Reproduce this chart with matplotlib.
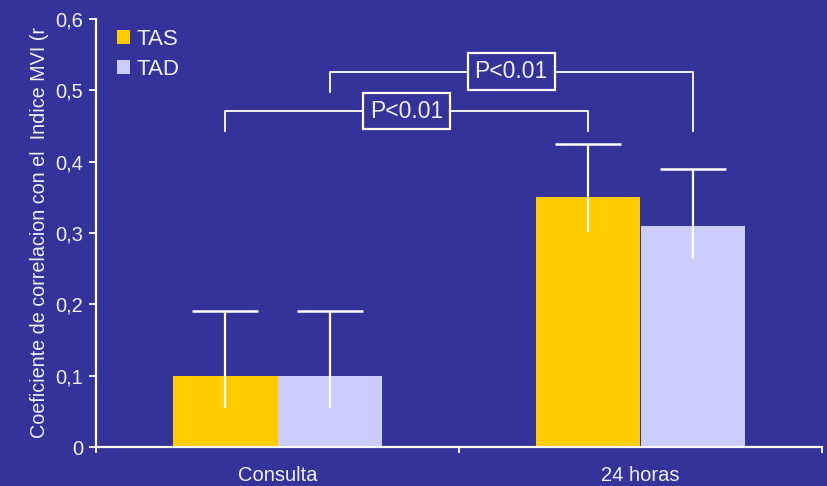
import matplotlib
matplotlib.use("Agg")
import matplotlib.pyplot as plt
import numpy as np

plt.rcParams['font.family'] = ['Liberation Sans', 'DejaVu Sans']

categories = ["Consulta", "24 horas"]
series = ["TAS", "TAD"]
tas = [0.10, 0.35]
tad = [0.10, 0.31]
tas_low = [0.055, 0.301]
tas_high = [0.19, 0.425]
tad_low = [0.055, 0.264]
tad_high = [0.19, 0.39]
yticks = [0, 0.1, 0.2, 0.3, 0.4, 0.5, 0.6]
ytick_labels = ["0", "0,1", "0,2", "0,3", "0,4", "0,5", "0,6"]
pvalue_text = "P<0.01"

BG = "#333399"
C_TAS = "#FFCC00"
C_TAD = "#CCCCFF"
FG = "#F0F0FF"

fig = plt.figure(figsize=(8.27, 4.86), dpi=100, facecolor=BG)
ax = fig.add_axes([96 / 827, 39 / 486, 726 / 827, 428 / 486])
ax.set_facecolor(BG)

x = np.arange(len(categories))
w = 0.287
x_tas = x - w / 2
x_tad = x + w / 2

ax.bar(x_tas, tas, width=w, color=C_TAS, label=series[0], zorder=2)
ax.bar(x_tad, tad, width=w, color=C_TAD, label=series[1], zorder=2)

# error bars: whisker spanning low..high with a cap only on top
def whiskers(xs, lows, highs):
    ax.vlines(xs, lows, highs, color="white", lw=1.6, zorder=3)
    ax.plot(xs, highs, linestyle="none", marker="_", markersize=47,
            markeredgewidth=1.8, color="white", zorder=3)

whiskers(x_tas, tas_low, tas_high)
whiskers(x_tad, tad_low, tad_high)

# significance brackets
def bracket(x0, x1, y_top, y0_bottom, y1_bottom):
    ax.plot([x0, x0, x1, x1], [y0_bottom, y_top, y_top, y1_bottom],
            color="white", lw=1.3, zorder=3, clip_on=False)
    ax.text((x0 + x1) / 2, y_top, pvalue_text, ha="center", va="center",
            fontsize=16.5, color=FG, zorder=4,
            bbox=dict(boxstyle="square,pad=0.3", facecolor=BG, edgecolor="white", linewidth=1.6))

bracket(x_tas[0], x_tas[1], 0.471, 0.443, 0.443)
bracket(x_tad[0], x_tad[1], 0.526, 0.498, 0.443)

ax.set_xlim(-0.5, 1.5)
ax.set_ylim(0, 0.6)
ax.set_yticks(yticks)
ax.set_yticklabels(ytick_labels)
ax.set_xticks([-0.5, 0.5, 1.5])
ax.set_xticklabels([])
ax.set_xticks(x, minor=True)
ax.set_xticklabels(categories, minor=True)
ax.tick_params(axis="x", which="minor", length=0, pad=14, labelsize=14.5, labelcolor=FG)
ax.tick_params(axis="x", which="major", length=4, width=1.3, color="white", direction="out")
ax.tick_params(axis="y", length=5, width=1.3, color="white", direction="out",
               labelsize=14.5, labelcolor=FG, pad=4)

for side in ["top", "right"]:
    ax.spines[side].set_visible(False)
for side in ["left", "bottom"]:
    ax.spines[side].set_color("white")
    ax.spines[side].set_linewidth(1.6)

ax.set_ylabel("Coeficiente de correlacion con el  Indice MVI (r", fontsize=14.2, color=FG, labelpad=5)

leg = ax.legend(loc="upper left", bbox_to_anchor=(0.01, 1.008), frameon=False,
                fontsize=16, handlelength=0.6, handleheight=0.6, handletextpad=0.3,
                labelspacing=0.42, borderaxespad=0.2)
for t in leg.get_texts():
    t.set_color(FG)

fig.savefig("out.png", dpi=100, facecolor=BG)
